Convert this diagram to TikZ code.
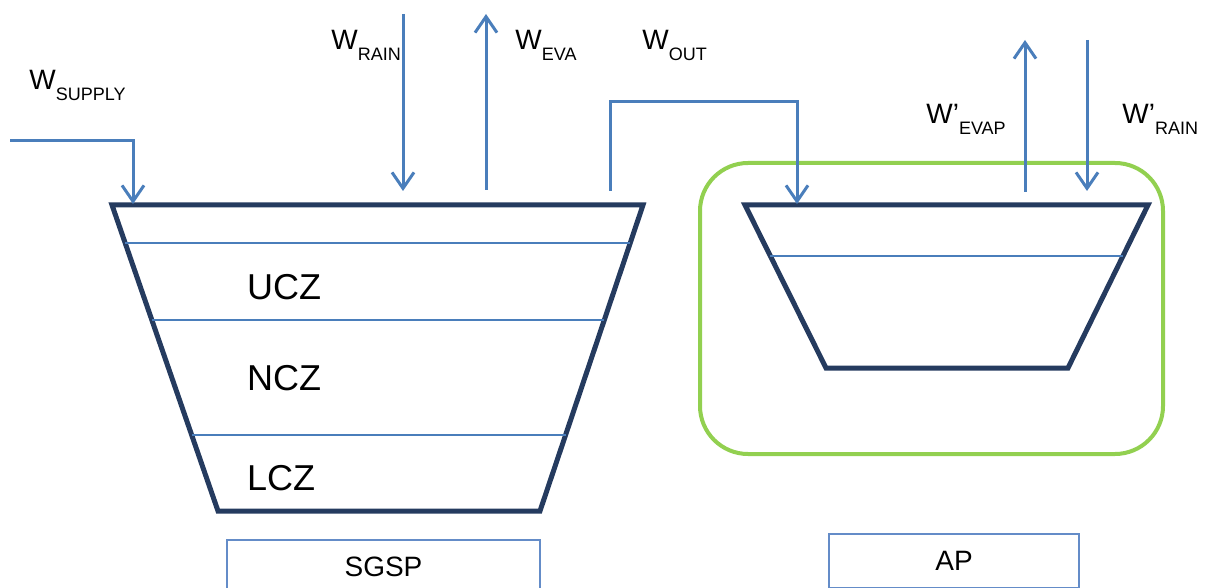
\documentclass[tikz,border=0pt]{standalone}
\usepackage{fontspec}
\setmainfont{Liberation Sans}
\usetikzlibrary{arrows.meta, calc}

\definecolor{tanknavy}{RGB}{37,59,95}
\definecolor{flowblue}{RGB}{74,126,187}
\definecolor{apgreen}{RGB}{146,208,80}
\definecolor{boxblue}{RGB}{100,140,200}

% W with a lowered subscript word
\newcommand{\wflow}[2]{#1\raisebox{-5.5pt}{\fontsize{9}{9}\selectfont #2}}

\begin{document}
\begin{tikzpicture}[x=0.5pt, y=-0.5pt,
  flow/.style={draw=flowblue, line width=1.5pt, -{Straight Barb[length=8pt, width=11pt]}},
  tank/.style={draw=tanknavy, line width=2.5pt, line join=miter},
  layer/.style={draw=flowblue, line width=1pt},
  zone/.style={anchor=west, font=\fontsize{18}{18}\selectfont},
  flowlab/.style={anchor=base west, inner sep=0pt, font=\fontsize{14}{14}\selectfont},
  namebox/.style={draw=boxblue, line width=1pt, minimum width=156.5pt, minimum height=27pt,
    anchor=north west, font=\fontsize{14}{14}\selectfont}]

\clip (0,0) rectangle (1209,588);

% SGSP tank
\coordinate (sg1) at (112,205);
\coordinate (sg2) at (643,205);
\coordinate (sg3) at (540,511);
\coordinate (sg4) at (218,511);
\draw[tank] (sg1) -- (sg2) -- (sg3) -- (sg4) -- cycle;
\draw[layer] ($(sg1)!0.124!(sg4)$) -- ($(sg2)!0.124!(sg3)$);
\draw[layer] ($(sg1)!0.376!(sg4)$) -- ($(sg2)!0.376!(sg3)$);
\draw[layer] ($(sg1)!0.752!(sg4)$) -- ($(sg2)!0.752!(sg3)$);

\node[zone] (ucz) at (240,287) {UCZ};
\node[zone] (ncz) at (240,378) {NCZ};
\node[zone] (lcz) at (240,478) {LCZ};

% AP tank
\draw[draw=apgreen, line width=2pt, rounded corners=24pt] (700,163) rectangle (1163,454);
\coordinate (ap1) at (745,205);
\coordinate (ap2) at (1148,205);
\coordinate (ap3) at (1068,368);
\coordinate (ap4) at (826,368);
\draw[tank] (ap1) -- (ap2) -- (ap3) -- (ap4) -- cycle;
\draw[layer] ($(ap1)!0.313!(ap4)$) -- ($(ap2)!0.313!(ap3)$);

% flows
\coordinate (supply) at (10,141);
\coordinate (supin) at (133,204);
\draw[flow] (supply) -| (supin);

\coordinate (rain0) at (403,14);
\coordinate (rain1) at (403,191);
\draw[flow] (rain0) -- (rain1);

\coordinate (eva0) at (486,190);
\coordinate (eva1) at (486,14);
\draw[flow] (eva0) -- (eva1);

\coordinate (out0) at (610,191);
\coordinate (outin) at (797,204);
\draw[flow] (out0) -- (610,102) -| (outin);

\coordinate (evap0) at (1025,192);
\coordinate (evap1) at (1025,40);
\draw[flow] (evap0) -- (evap1);

\coordinate (prain0) at (1087,40);
\coordinate (prain1) at (1087,191);
\draw[flow] (prain0) -- (prain1);

% labels
\node[flowlab] (lsupply) at (29,90) {\wflow{W}{SUPPLY}};
\node[flowlab] (lrain) at (331,50) {\wflow{W}{RAIN}};
\node[flowlab] (leva) at (515,50) {\wflow{W}{EVA}};
\node[flowlab] (lout) at (642,50) {\wflow{W}{OUT}};
\node[flowlab] (levap) at (926,124) {\wflow{W’}{EVAP}};
\node[flowlab] (lprain) at (1122,124) {\wflow{W’}{RAIN}};

\node[namebox] (sgsp) at (226,539) {SGSP};
\node[namebox, minimum width=125pt] (ap) at (828,533) {AP};

\end{tikzpicture}
\end{document}
